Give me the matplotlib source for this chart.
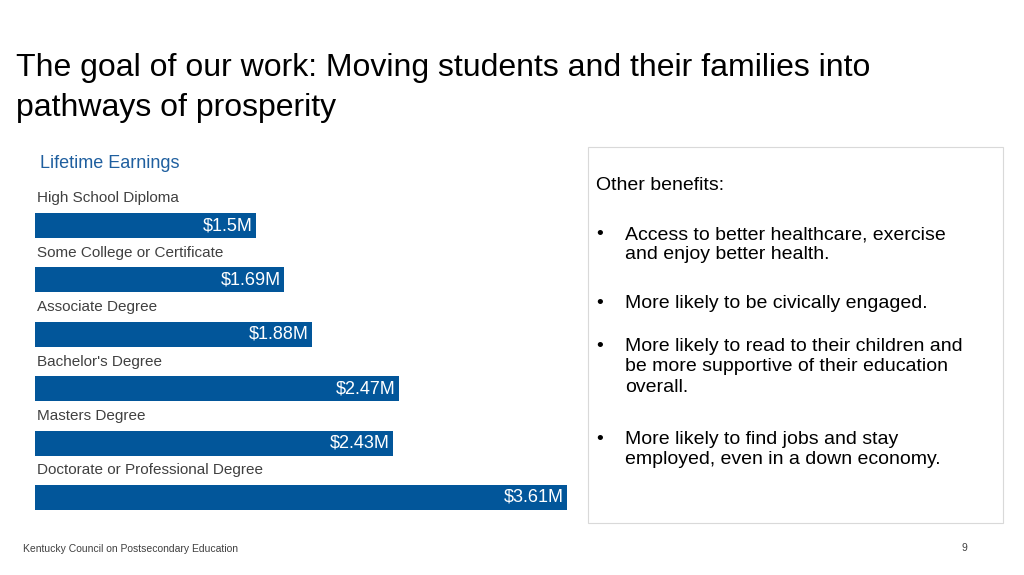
import matplotlib.pyplot as plt
from matplotlib.patches import Rectangle

categories = [
    "High School Diploma",
    "Some College or Certificate",
    "Associate Degree",
    "Bachelor's Degree",
    "Masters Degree",
    "Doctorate or Professional Degree",
]
earnings = [1.5, 1.69, 1.88, 2.47, 2.43, 3.61]
value_labels = ["$1.5M", "$1.69M", "$1.88M", "$2.47M", "$2.43M", "$3.61M"]

bullets = [
    "Access to better healthcare, exercise\nand enjoy better health.",
    "More likely to be civically engaged.",
    "More likely to read to their children and\nbe more supportive of their education\noverall.",
    "More likely to find jobs and stay\nemployed, even in a down economy.",
]
bullet_y = [226, 295, 338, 431]

W, H = 1024, 575
plt.rcParams["font.family"] = ["Liberation Sans", "DejaVu Sans"]
fig = plt.figure(figsize=(W / 100, H / 100), dpi=100)

def px(x, y):
    return x / W, 1 - y / H

# title
fig.text(*px(16, 68), "The goal of our work: Moving students and their families into",
         fontsize=23, va="center")
fig.text(*px(16, 108), "pathways of prosperity", fontsize=23, va="center")

fig.text(*px(40, 163), "Lifetime Earnings", fontsize=13, color="#1f5f9f", va="center")

# bar chart
x0, x1, y0, y1 = 35, 567, 213, 510
ax = fig.add_axes([x0 / W, 1 - y1 / H, (x1 - x0) / W, (y1 - y0) / H])
ypos = list(range(len(categories)))
ax.barh(ypos, earnings, height=0.46, color="#02569a")
ax.set_xlim(0, max(earnings))
ax.set_ylim(5.23, -0.23)
for i, (v, lab, cat) in enumerate(zip(earnings, value_labels, categories)):
    ax.text(v - 0.02, i, lab, color="white", fontsize=13, ha="right", va="center")
    ax.text(0.015, i - 0.5, cat, color="#404040", fontsize=11, ha="left", va="center")
ax.axis("off")

# right box
fig.patches.append(Rectangle(px(588, 523), (1003 - 588) / W, (523 - 147) / H,
                             transform=fig.transFigure, fill=False,
                             edgecolor="#d9d9d9", linewidth=0.8))
fig.text(*px(596, 186), "Other benefits:", fontsize=14, va="center")
for b, yb in zip(bullets, bullet_y):
    fig.text(*px(596, yb), "\u2022", fontsize=14, va="top")
    fig.text(*px(625, yb), b, fontsize=14, va="top", linespacing=1.25)

# footer
fig.text(*px(23, 549), "Kentucky Council on Postsecondary Education",
         fontsize=7.5, color="#404040", va="center")
fig.text(*px(961, 548), "9", fontsize=7.5, color="#404040", va="center")

fig.savefig("out.png", dpi=100)
